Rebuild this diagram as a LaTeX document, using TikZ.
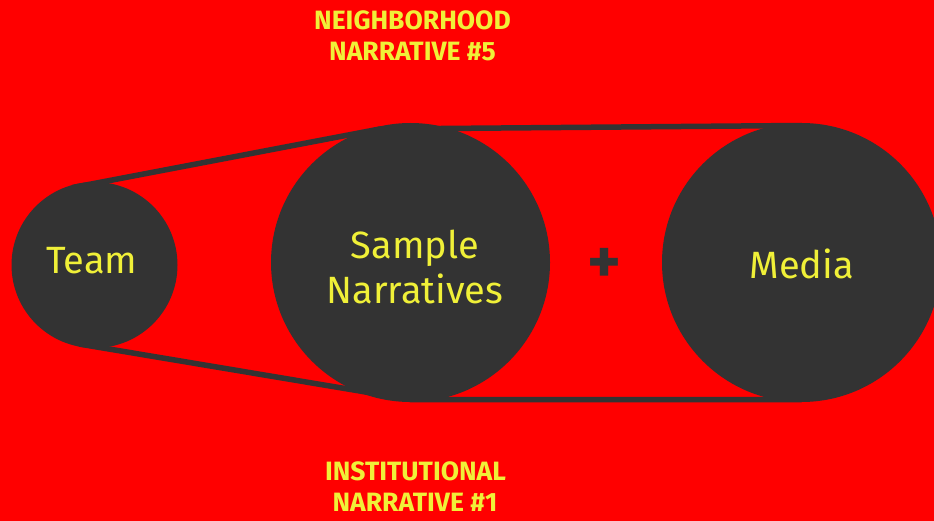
\documentclass[tikz,border=0pt]{standalone}
\usepackage{fontspec}
\setmainfont{Fira Sans}
\definecolor{bgred}{RGB}{255,0,0}
\definecolor{dark}{RGB}{51,51,51}
\definecolor{ylw}{RGB}{240,240,56}
\begin{document}
\begin{tikzpicture}[x=1pt,y=-1pt,
  disc/.style={circle, fill=dark, inner sep=0pt, outer sep=-2.5pt, minimum size=#1},
  belt/.style={draw=dark, line width=5.5pt, line join=miter},
  lbl/.style={text=ylw, font=\fontsize{38}{45}\selectfont, anchor=base, inner sep=0pt},
  hdr/.style={text=ylw, font=\bfseries\fontsize{26.5}{32}\selectfont, anchor=base, inner sep=0pt}]
\fill[bgred] (0,0) rectangle (934,521);
\useasboundingbox (0,0) rectangle (934,521);
\node[disc=166pt] (team) at (94.5,265) {};
\node[disc=279pt] (sample) at (410.5,262.5) {};
\node[disc=279pt] (media) at (801.5,262.5) {};
\draw[belt] (team.106) -- (sample.103) -- (media.90);
\draw[belt] (team.259) -- (sample.270) -- (media.270);
\node[lbl] (teamt) at (91.7,274) {Team};
\node[lbl] (samplet1) at (414.8,258.3) {Sample};
\node[lbl] (samplet2) at (414.8,303.3) {Narratives};
\node[lbl] (mediat) at (801.7,278.3) {Media};
\node[text=dark, font=\bfseries\fontsize{64}{64}\selectfont, inner sep=0pt] (plus) at (604.3,265.5) {+};
\node[hdr] (h1) at (412.5,29.3) {NEIGHBORHOOD};
\node[hdr] (h2) at (412.5,61) {NARRATIVE \#5};
\node[hdr] (h3) at (415.5,480.7) {INSTITUTIONAL};
\node[hdr] (h4) at (415,511.7) {NARRATIVE \#1};
\end{tikzpicture}
\end{document}
